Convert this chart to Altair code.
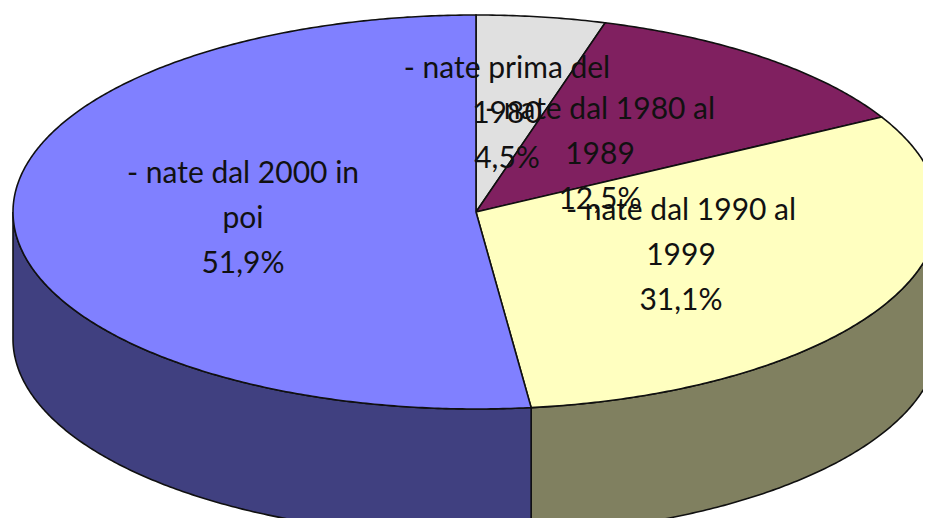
import math
import altair as alt

# Chart data
names = ["nate prima del 1980", "nate dal 1980 al 1989", "nate dal 1990 al 1999", "nate dal 2000 in poi"]
values = [4.5, 12.5, 31.1, 51.9]
top_colors = ["#E0E0E0", "#802060", "#FFFFC0", "#8080FF"]
side_colors = ["#707070", "#401030", "#808060", "#404080"]
label_lines = [
    "- nate prima del\n1980\n4,5%",
    "- nate dal 1980 al\n1989\n12,5%",
    "- nate dal 1990 al\n1999\n31,1%",
    "- nate dal 2000 in\npoi\n51,9%",
]

# Pie geometry (pixels on the page)
CX, CY, RX, RY, DEPTH = 476, 212, 463, 197, 127
label_x = [507, 600, 681, 243]
label_y = [54, 95, 196, 159]


def pt(deg, dy=0):
    a = math.radians(deg)
    return [CX + RX * math.sin(a), CY - RY * math.cos(a) + dy]


def arc(a0, a1, dy=0):
    n = max(2, int(abs(a1 - a0) * 2))
    return [pt(a0 + (a1 - a0) * i / n, dy) for i in range(n + 1)]


def feature(name, ring):
    ring = ring + [ring[0]]
    return {"type": "Feature", "properties": {"name": name},
            "geometry": {"type": "Polygon", "coordinates": [ring]}}


top, side = [], []
start = 0.0
for n, v in zip(names, values):
    end = start + v / sum(values) * 360
    top.append(feature("top " + n, [[CX, CY]] + arc(start, end)))
    lo, hi = max(start, 90), min(end, 270)
    if hi > lo:
        side.append(feature("side " + n, arc(lo, hi) + arc(hi, lo, DEPTH)))
    start = end

domain = ["top " + n for n in names] + ["side " + n for n in names]
colors = top_colors + side_colors
proj = dict(type="identity", scale=1, translate=[-8, -8])


def shapes(features):
    return (
        alt.Chart(alt.Data(values=features))
        .mark_geoshape(stroke="#101010", strokeWidth=1.6)
        .encode(fill=alt.Fill("properties.name:N", scale=alt.Scale(domain=domain, range=colors), legend=None))
        .project(**proj)
    )


labels = [{"t": t, "x": x, "y": y} for t, x, y in zip(label_lines, label_x, label_y)]
text = (
    alt.Chart(alt.Data(values=labels))
    .mark_text(font="Lato", fontSize=30, color="#111111", lineBreak="\n", lineHeight=45,
               align="center", baseline="top")
    .encode(longitude="x:Q", latitude="y:Q", text="t:N")
    .project(**proj)
)

chart = (
    alt.layer(shapes(side), shapes(top), text)
    .properties(width=915, height=510, autosize=alt.AutoSizeParams(type="none"), padding=0)
    .configure_view(stroke=None)
)
chart.save("out.html", embed_options={"renderer": "svg", "actions": False})
